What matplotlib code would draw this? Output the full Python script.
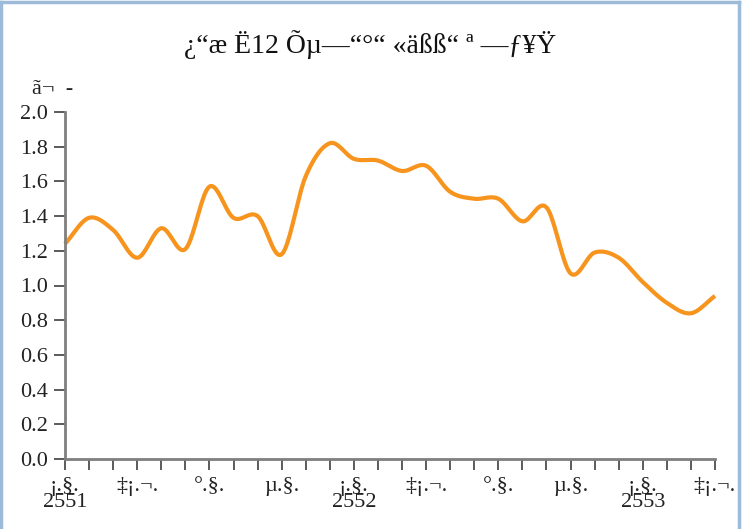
import numpy as np
import matplotlib
matplotlib.use("Agg")
import matplotlib.pyplot as plt
from matplotlib.lines import Line2D

# ---- data ----
months_idx = list(range(28))  # Jan 2551 .. Apr 2553 (monthly)
values = [1.24, 1.39, 1.32, 1.16, 1.33, 1.21, 1.57, 1.39, 1.40, 1.18,
          1.63, 1.82, 1.73, 1.72, 1.66, 1.69, 1.54, 1.50, 1.50, 1.37,
          1.45, 1.07, 1.19, 1.16, 1.02, 0.90, 0.84, 0.94]
tick_positions = [0, 3, 6, 9, 12, 15, 18, 21, 24, 27]
tick_labels = ["¡.§.\n2551", "‡¡.¬.", "°.§.", "µ.§.", "¡.§.\n2552",
               "‡¡.¬.", "°.§.", "µ.§.", "¡.§.\n2553", "‡¡.¬."]
title_text = "¿“æ Ë12 Õµ—“°“ «äßß“ ª —ƒ¥Ÿ"
ylabel_text = "ã¬  -"

plt.rcParams['font.family'] = ['Liberation Serif', 'DejaVu Serif']

def catmull_rom(x, y, n=20):
    x = np.asarray(x, float); y = np.asarray(y, float)
    xp = np.concatenate([[2*x[0]-x[1]], x, [2*x[-1]-x[-2]]])
    yp = np.concatenate([[2*y[0]-y[1]], y, [2*y[-1]-y[-2]]])
    xs, ys = [], []
    for i in range(1, len(xp)-2):
        t = np.linspace(0, 1, n, endpoint=False)
        for arr, out in ((xp, xs), (yp, ys)):
            p0, p1, p2, p3 = arr[i-1], arr[i], arr[i+1], arr[i+2]
            out.append(0.5*((2*p1) + (-p0+p2)*t + (2*p0-5*p1+4*p2-p3)*t**2
                            + (-p0+3*p1-3*p2+p3)*t**3))
    xs.append([x[-1]]); ys.append([y[-1]])
    return np.concatenate(xs), np.concatenate(ys)

W, H = 742, 529
fig = plt.figure(figsize=(W/100, H/100), dpi=100)
ax = fig.add_axes([65/W, 1-459/H, (715-65)/W, (459-112)/H])

sx, sy = catmull_rom(months_idx, values)
ax.plot(sx, sy, color='#f7941d', lw=3, solid_capstyle='butt', clip_on=False)

ax.set_xlim(0, 27)
ax.set_ylim(0, 2.0)
ax.set_yticks(np.arange(0, 2.01, 0.2))
ax.set_yticklabels([f"{v:.1f}" for v in np.arange(0, 2.01, 0.2)], fontsize=16)
ax.set_xticks(range(28), minor=True)
ax.set_xticks(tick_positions)
ax.set_xticklabels(tick_labels, fontsize=16, linespacing=0.8)
for s in ['top', 'right']:
    ax.spines[s].set_visible(False)
ax.spines['left'].set_color('#7f7f7f')
ax.spines['left'].set_linewidth(2)
ax.spines['bottom'].set_color('#7f7f7f')
ax.spines['bottom'].set_linewidth(2)
ax.tick_params(axis='both', which='both', direction='out', length=8,
               width=1.2, color='#404040', labelcolor='#222222')
ax.tick_params(axis='x', which='both', pad=5)
ax.tick_params(axis='y', pad=4)

fig.text(370/W, 1-45/H, title_text, ha='center', va='center', fontsize=20,
         color='#111111')
fig.text(32/W, 1-90/H, ylabel_text, ha='left', va='center', fontsize=16,
         color='#222222')

bc = '#9dbbd9'
fig.add_artist(Line2D([0.002, 0.002], [0, 0.997], transform=fig.transFigure, color=bc, lw=2.5))
fig.add_artist(Line2D([0.002, 0.996], [0.997, 0.997], transform=fig.transFigure, color=bc, lw=2.5))
fig.add_artist(Line2D([0.996, 0.996], [0, 0.997], transform=fig.transFigure, color=bc, lw=2.5))

fig.savefig("out.png", dpi=100)
